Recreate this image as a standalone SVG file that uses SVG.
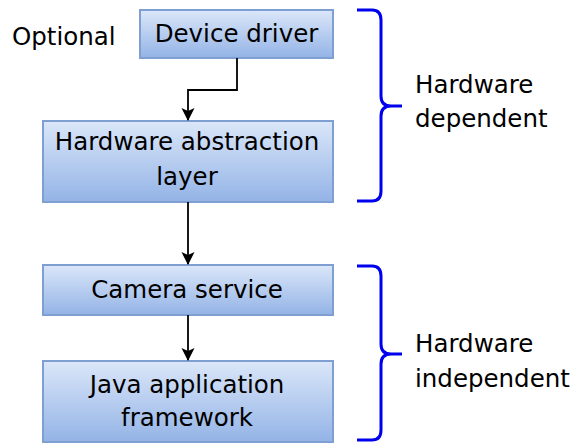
<svg xmlns="http://www.w3.org/2000/svg" width="574" height="443" viewBox="0 0 574 443">
<defs>
<linearGradient id="g" x1="0" y1="0" x2="0" y2="1">
<stop offset="0" stop-color="#dbe7f9"/>
<stop offset="1" stop-color="#93b3e6"/>
</linearGradient>
<marker id="arr" markerWidth="14" markerHeight="14" refX="12" refY="6.5" orient="auto" markerUnits="userSpaceOnUse">
<path d="M0,0 L13,6.5 L0,13 L3,6.5 Z" fill="#000"/>
</marker>
<style>
.box{fill:url(#g);stroke:#7f9fd3;stroke-width:2}
.t{font-family:"DejaVu Sans",sans-serif;font-size:24.5px;fill:#000}
.c{stroke:#000;stroke-width:1.8;fill:none;marker-end:url(#arr)}
.br{stroke:#0000ee;stroke-width:3;fill:none}
</style>
</defs>
<rect width="574" height="443" fill="#fff"/>
<text class="t" x="12" y="45">Optional</text>
<g id="device-driver">
<rect class="box" x="140" y="10" width="193" height="48"/>
<text class="t" x="236.5" y="42" text-anchor="middle">Device driver</text>
</g>
<g id="hal">
<rect class="box" x="43" y="121" width="290" height="81"/>
<text class="t" x="187" y="150" text-anchor="middle">Hardware abstraction</text>
<text class="t" x="187" y="185" text-anchor="middle">layer</text>
</g>
<g id="camera-service">
<rect class="box" x="43" y="265" width="290" height="50"/>
<text class="t" x="187" y="298" text-anchor="middle">Camera service</text>
</g>
<g id="java-framework">
<rect class="box" x="43" y="361" width="290" height="81"/>
<text class="t" x="187" y="393" text-anchor="middle">Java application</text>
<text class="t" x="187" y="426" text-anchor="middle">framework</text>
</g>
<g id="connectors">
<path class="c" d="M237,58 V90 H188 V120"/>
<path class="c" d="M188,202 V264"/>
<path class="c" d="M188,315 V360"/>
</g>
<g id="brace-dependent">
<path class="br" d="M357,10 H372 Q381,10 381,20 V96 Q381,106 391,106 H402 M391,106 Q381,106 381,116 V191 Q381,201 372,201 H357"/>
<text class="t" x="415" y="93">Hardware</text>
<text class="t" x="415" y="127">dependent</text>
</g>
<g id="brace-independent">
<path class="br" d="M357,266 H372 Q381,266 381,276 V344 Q381,354 391,354 H402 M391,354 Q381,354 381,364 V430 Q381,440 372,440 H357"/>
<text class="t" x="415" y="352">Hardware</text>
<text class="t" x="415" y="387">independent</text>
</g>
</svg>
